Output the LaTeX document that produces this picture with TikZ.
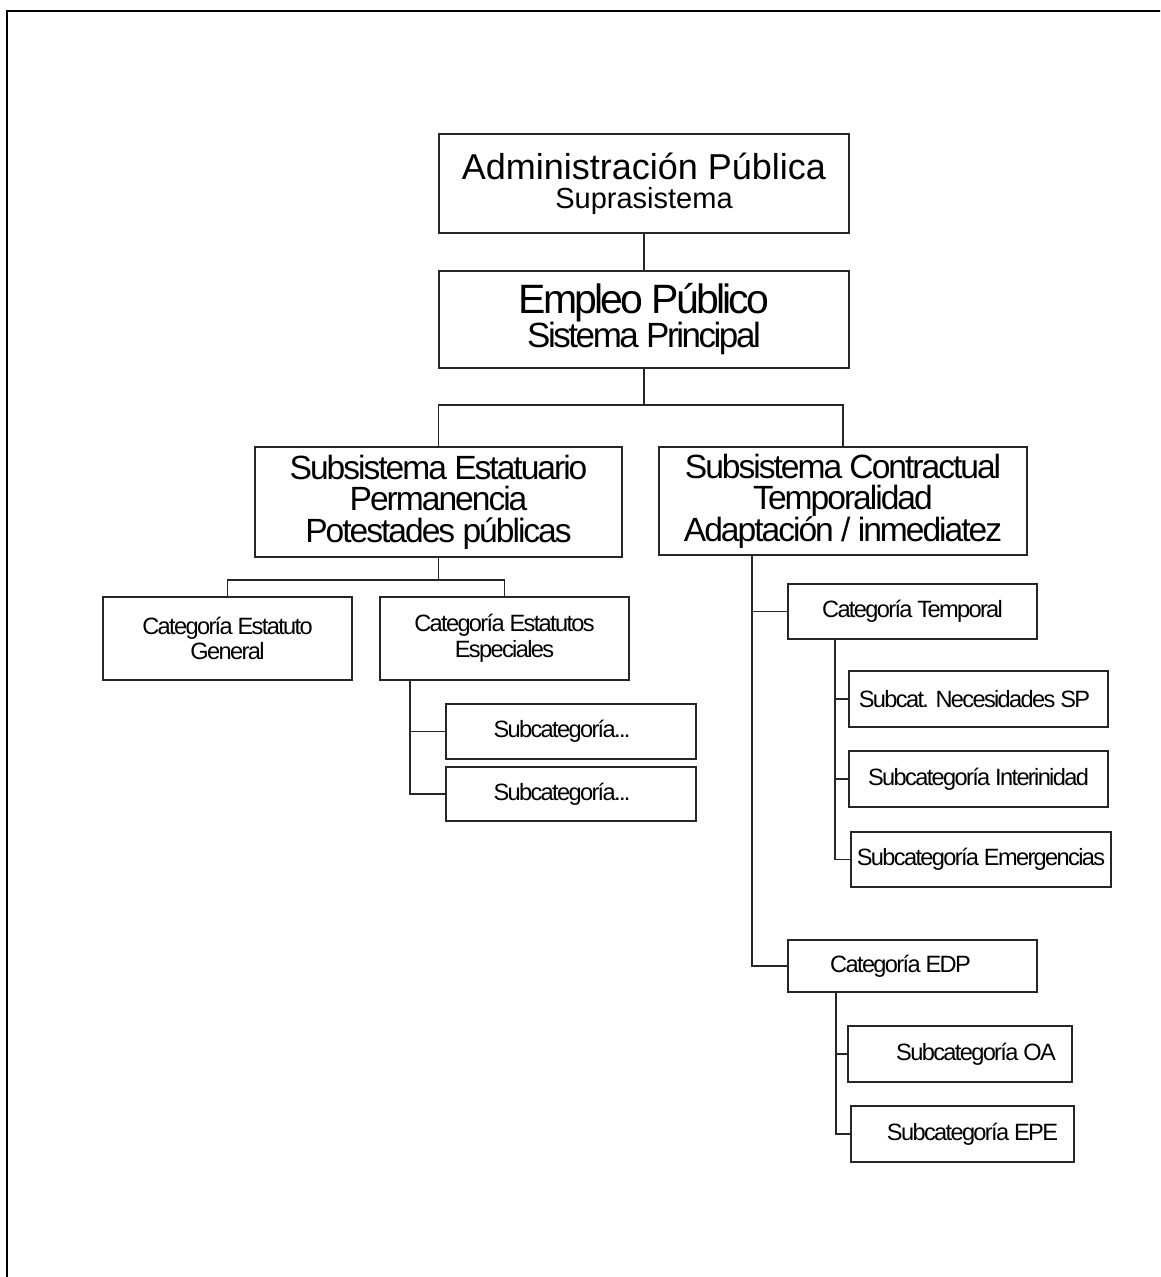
\documentclass[tikz,border=0pt]{standalone}
\usepackage{fontspec}
\setmainfont{Liberation Sans}

\begin{document}
\begin{tikzpicture}[x=0.5pt,y=-0.5pt,line width=0.55pt]
\tikzset{box/.style={draw=black!85,inner sep=0pt,align=center},
  wh/.style 2 args={minimum width=#1*0.5pt,minimum height=#2*0.5pt},
  topf/.style={font={\fontsize{18}{14.5}\selectfont\lineskiplimit=-20pt}},
  empf/.style={font={\addfontfeatures{LetterSpace=-7}\fontsize{20.5}{17}\selectfont\lineskiplimit=-20pt}},
  sysf/.style={font={\addfontfeatures{LetterSpace=-6}\fontsize{16.8}{15.8}\selectfont\lineskiplimit=-20pt}},
  catf/.style={font={\addfontfeatures{LetterSpace=-7}\fontsize{11.8}{12.8}\selectfont\lineskiplimit=-20pt}},
  link/.style={draw=black!85,line width=0.55pt},
  frame/.style={line width=1pt}}
\useasboundingbox (0,0) rectangle (1160,1277);
% page frame (runs off right and bottom)
\begin{scope}
\clip (0,0) rectangle (1160,1277);
\draw[frame] (7,11) rectangle (1180,1300);
\end{scope}
% ================= top levels =================
\node[box,topf,wh={410}{99}] (adm) at (644,183.5) {Administración Pública\\\fontsize{14.5}{14.5}\selectfont Suprasistema};
\node[box,empf,wh={410}{97}] (emp) at (644,319.5) {Empleo Público\\\fontsize{17.5}{17}\selectfont Sistema Principal};
\draw[link] (adm) -- (emp);
% ================= subsystems =================
\node[box,sysf,wh={367}{110}] (est) at (438.5,502) {Subsistema Estatuario\\Permanencia\\Potestades públicas};
\node[box,sysf,wh={368}{108}] (con) at (843,501) {Subsistema Contractual\\Temporalidad\\Adaptación / inmediatez};
\coordinate (fork1) at (644,405);
\draw[link] (emp.south) -- (fork1) -| (est.north);
\draw[link] (fork1) -| (con.north);
% ================= estatuario branch =================
\node[box,catf,wh={249}{83}] (cgen) at (227.5,638.5) {Categoría Estatuto\\General};
\node[box,catf,wh={249}{83}] (cesp) at (504.5,638.5) {Categoría Estatutos\\Especiales};
\coordinate (fork2) at (438.5,580);
\draw[link] (est.south) -- (fork2) -| (cgen.north);
\draw[link] (fork2) -| (cesp.north);
\node[box,catf,wh={250}{55}] (sub1) at (571,731.5) {Subcategoría...\hspace*{9pt}};
\node[box,catf,wh={250}{54}] (sub2) at (571,794) {Subcategoría...\hspace*{9pt}};
\coordinate (trk1) at (410,680);
\draw[link] (trk1) |- (sub1.west);
\draw[link] (trk1) |- (sub2.west);
% ================= contractual branch =================
\node[box,catf,wh={249}{55}] (ctemp) at (912.5,611.5) {Categoría Temporal};
\node[box,catf,wh={249}{52}] (cedp) at (912.5,966) {Categoría EDP\hspace*{12pt}};
\coordinate (trk2) at (752,555);
\draw[link] (trk2) |- (ctemp.west);
\draw[link] (trk2) |- (cedp.west);
% temporal subcategories
\node[box,catf,wh={259}{56}] (nec) at (978.5,699) {Subcat. Necesidades SP\hspace*{4pt}};
\node[box,catf,wh={259}{56}] (inter) at (978.5,779) {Subcategoría Interinidad};
\node[box,catf,wh={260}{55}] (emer) at (981,859.5) {Subcategoría Emergencias};
\coordinate (trk3) at (835,639);
\foreach \n in {nec,inter,emer}{\draw[link] (trk3) |- (\n.west);}
% EDP subcategories
\node[box,catf,wh={224}{56}] (oa) at (960,1054) {\hspace*{16pt}Subcategoría OA};
\node[box,catf,wh={223}{56}] (epe) at (962.5,1134) {\hspace*{10pt}Subcategoría EPE};
\coordinate (trk4) at (836,992);
\foreach \n in {oa,epe}{\draw[link] (trk4) |- (\n.west);}
\end{tikzpicture}
\end{document}
